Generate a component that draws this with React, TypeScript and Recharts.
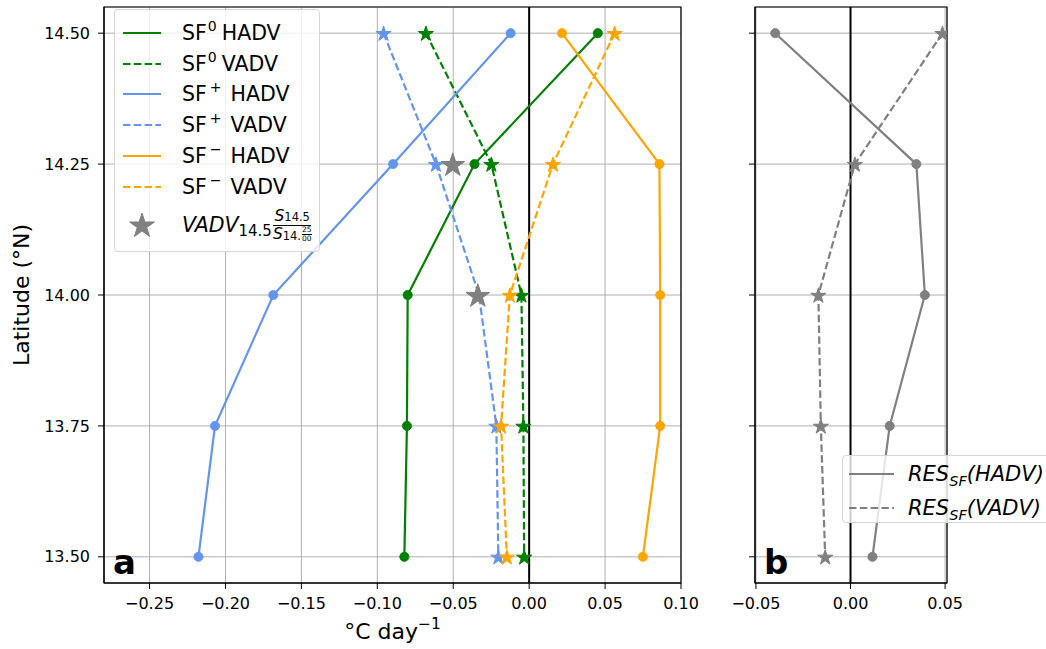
import React from 'react'
import { ScatterChart, Scatter, XAxis, YAxis, CartesianGrid, ReferenceLine, ReferenceArea, Label } from 'recharts'

// latitude rows, top to bottom
const latitudes = [14.5, 14.25, 14.0, 13.75, 13.5]
const latTicks = [13.5, 13.75, 14.0, 14.25, 14.5]
const ticksA = [-0.25, -0.2, -0.15, -0.1, -0.05, 0, 0.05, 0.1]
const ticksB = [-0.05, 0, 0.05]

// panel a, °C/day
const sf0Hadv = [0.0452, -0.036, -0.080, -0.0805, -0.0822]
const sf0Vadv = [-0.068, -0.0249, -0.0051, -0.0038, -0.0033]
const sfPlusHadv = [-0.0122, -0.0896, -0.1685, -0.2069, -0.2178]
const sfPlusVadv = [-0.0959, -0.0614, -0.033, -0.0216, -0.0203]
const sfMinusHadv = [0.0216, 0.0858, 0.0863, 0.0863, 0.0749]
const sfMinusVadv = [0.0563, 0.0157, -0.0127, -0.0185, -0.0147]
const scaledLatitudes = [14.25, 14.0]
const scaledVadv = [-0.0503, -0.0338]

// panel b, residuals
const resHadv = [-0.0398, 0.0348, 0.0393, 0.0207, 0.0116]
const resVadv = [0.0486, 0.0023, -0.017, -0.0157, -0.0134]

const GREEN = '#008000'
const BLUE = '#6495ED'
const ORANGE = '#FFA500'
const GREY = '#808080'
const FONT = '"DejaVu Sans", sans-serif'

const toPoints = (xs: number[], ys: number[]) => xs.map((x, i) => ({ x, y: ys[i] }))

type Series = {
  key: string
  xs: number[]
  ys: number[]
  color: string
  dashed: boolean
  marker: 'circle' | 'star' | 'bigstar'
  sup?: string
  name?: string
}

const seriesA: Series[] = [
  { key: 'sf0h', xs: sf0Hadv, ys: latitudes, color: GREEN, dashed: false, marker: 'circle', sup: '0', name: 'HADV' },
  { key: 'sf0v', xs: sf0Vadv, ys: latitudes, color: GREEN, dashed: true, marker: 'star', sup: '0', name: 'VADV' },
  { key: 'sfph', xs: sfPlusHadv, ys: latitudes, color: BLUE, dashed: false, marker: 'circle', sup: '+', name: 'HADV' },
  { key: 'sfpv', xs: sfPlusVadv, ys: latitudes, color: BLUE, dashed: true, marker: 'star', sup: '+', name: 'VADV' },
  { key: 'sfmh', xs: sfMinusHadv, ys: latitudes, color: ORANGE, dashed: false, marker: 'circle', sup: '\u2212', name: 'HADV' },
  { key: 'sfmv', xs: sfMinusVadv, ys: latitudes, color: ORANGE, dashed: true, marker: 'star', sup: '\u2212', name: 'VADV' },
  { key: 'scaled', xs: scaledVadv, ys: scaledLatitudes, color: GREY, dashed: false, marker: 'bigstar' },
]

const seriesB: Series[] = [
  { key: 'resh', xs: resHadv, ys: latitudes, color: GREY, dashed: false, marker: 'circle', name: 'HADV' },
  { key: 'resv', xs: resVadv, ys: latitudes, color: GREY, dashed: true, marker: 'star', name: 'VADV' },
]

function starPath(cx: number, cy: number, r: number) {
  const pts: string[] = []
  for (let i = 0; i < 10; i++) {
    const a = -Math.PI / 2 + (i * Math.PI) / 5
    const rr = i % 2 === 0 ? r : r * 0.382
    pts.push(`${(cx + rr * Math.cos(a)).toFixed(2)},${(cy + rr * Math.sin(a)).toFixed(2)}`)
  }
  return 'M' + pts.join('L') + 'Z'
}

function Marker({ cx, cy, kind, color }: { cx: number; cy: number; kind: string; color: string }) {
  if (cx == null || cy == null) return null
  if (kind === 'circle') return <circle cx={cx} cy={cy} r={4.6} fill={color} stroke={color} strokeWidth={0.8} />
  const r = kind === 'bigstar' ? 12.5 : 8
  return <path d={starPath(cx, cy + r * 0.1, r)} fill={color} stroke={color} strokeWidth={1} strokeLinejoin="round" />
}

const fmt = (v: number) => (Math.abs(v) < 1e-9 ? '0.00' : v < 0 ? '\u2212' + Math.abs(v).toFixed(2) : v.toFixed(2))

function renderSeries(list: Series[]) {
  return list.map((s) => (
    <Scatter
      key={s.key}
      data={toPoints(s.xs, s.ys)}
      fill={s.color}
      isAnimationActive={false}
      line={s.marker === 'bigstar' ? false : { strokeWidth: 2.2, strokeDasharray: s.dashed ? '7.5 3.3' : undefined }}
      shape={(p: any) => <Marker cx={p.cx} cy={p.cy} kind={s.marker} color={s.color} />}
    />
  ))
}

function Sup({ children, wide }: { children: React.ReactNode; wide: boolean }) {
  return (
    <span style={{ fontSize: 14, position: 'relative', top: -9, marginLeft: wide ? 3 : 1, marginRight: wide ? 9 : 5 }}>
      {children}
    </span>
  )
}

function LineSample({ color, dashed, width }: { color: string; dashed: boolean; width: number }) {
  return (
    <svg width={width} height={10} style={{ display: 'block' }}>
      <line x1={0} y1={5} x2={width} y2={5} stroke={color} strokeWidth={2.2} strokeDasharray={dashed ? '7.5 3.3' : undefined} />
    </svg>
  )
}

function LegendA() {
  const rows = seriesA.filter((s) => s.marker !== 'bigstar')
  return (
    <div
      style={{
        position: 'absolute', left: 114, top: 9, width: 206, height: 243, boxSizing: 'border-box',
        border: '1px solid #d6d6d6', borderRadius: 4, background: 'rgba(255,255,255,0.8)',
        fontFamily: FONT, fontSize: 20.5, color: '#000',
      }}
    >
      {rows.map((s, i) => (
        <div key={s.key} style={{ position: 'absolute', left: 8, top: 8 + i * 30.7, height: 30, display: 'flex', alignItems: 'center' }}>
          <LineSample color={s.color} dashed={s.dashed} width={38} />
          <span style={{ marginLeft: 21, whiteSpace: 'nowrap' }}>
            SF<Sup wide={s.sup !== '0'}>{s.sup}</Sup>
            {s.name}
          </span>
        </div>
      ))}
      <div style={{ position: 'absolute', left: 8, top: 196, height: 38, display: 'flex', alignItems: 'center' }}>
        <svg width={38} height={30} style={{ display: 'block' }}>
          <path d={starPath(19, 16, 13)} fill={GREY} stroke={GREY} strokeWidth={1} strokeLinejoin="round" />
        </svg>
        <span style={{ marginLeft: 21, whiteSpace: 'nowrap', display: 'inline-flex', alignItems: 'center' }}>
          <i>VADV</i>
          <span style={{ fontSize: 15, position: 'relative', top: 6 }}>14.5</span>
          <span style={{ display: 'inline-flex', flexDirection: 'column', alignItems: 'center', fontSize: 15.5, lineHeight: '16px', marginLeft: 1 }}>
            <span style={{ borderBottom: '1px solid #000', padding: '0 1px' }}>
              <i>S</i><span style={{ fontSize: 11.5 }}>14.5</span>
            </span>
            <span style={{ display: 'inline-flex', alignItems: 'center' }}>
              <i>S</i><span style={{ fontSize: 11.5, position: 'relative', top: 2 }}>14.</span>
              <span style={{ display: 'inline-flex', flexDirection: 'column', fontSize: 7.5, lineHeight: '7.5px', marginLeft: 1 }}>
                <span style={{ borderBottom: '0.5px solid #000' }}>25</span>
                <span>00</span>
              </span>
            </span>
          </span>
        </span>
      </div>
    </div>
  )
}

function LegendB() {
  return (
    <div
      style={{
        position: 'absolute', left: 842, top: 455, width: 215, height: 68, boxSizing: 'border-box',
        border: '1px solid #d6d6d6', borderRadius: 4, background: 'rgba(255,255,255,0.8)',
        fontFamily: FONT, fontSize: 21, color: '#000', overflow: 'hidden',
      }}
    >
      {seriesB.map((s, i) => (
        <div key={s.key} style={{ position: 'absolute', left: 6, top: 3 + i * 34, height: 30, display: 'flex', alignItems: 'center' }}>
          <LineSample color={s.color} dashed={s.dashed} width={45} />
          <span style={{ marginLeft: 14, whiteSpace: 'nowrap', fontStyle: 'italic' }}>
            RES<span style={{ fontSize: 14.5, position: 'relative', top: 5 }}>SF</span>({s.name})
          </span>
        </div>
      ))}
    </div>
  )
}

const tickStyle = { fontSize: 16, fill: '#000', fontFamily: FONT }
const axisLabelStyle = { fontSize: 22, fill: '#000', fontFamily: FONT }

function UnitLabel(props: any) {
  const vb = props.viewBox || {}
  return (
    <text x={vb.x + vb.width / 2} y={vb.y + vb.height - 10} textAnchor="middle" style={axisLabelStyle}>
      °C day<tspan dy={-10} style={{ fontSize: 15.5 }}>{'\u22121'}</tspan>
    </text>
  )
}

export default function App() {
  return (
    <div style={{ position: 'absolute', left: 0, top: 0, width: 1046, height: 649, background: '#fff', fontFamily: FONT }}>
      <div style={{ position: 'absolute', left: 0, top: 0 }}>
        <ScatterChart width={700} height={649} margin={{ top: 7, right: 19, bottom: 0, left: 0 }}>
          <CartesianGrid stroke="#b0b0b0" strokeWidth={1} />
          <XAxis
            type="number" dataKey="x" domain={[-0.28, 0.1]} ticks={ticksA} allowDataOverflow
            tickFormatter={fmt} tick={tickStyle} tickSize={6} tickMargin={9} height={66}
            axisLine={{ stroke: '#000' }} tickLine={{ stroke: '#000' }}
          >
            <Label content={UnitLabel} />
          </XAxis>
          <YAxis
            type="number" dataKey="y" domain={[13.45, 14.55]} ticks={latTicks} allowDataOverflow
            tickFormatter={(v: number) => v.toFixed(2)} tick={tickStyle} tickSize={6} tickMargin={8} width={104}
            axisLine={{ stroke: '#000' }} tickLine={{ stroke: '#000' }}
          >
            <Label value="Latitude (°N)" angle={-90} position="insideLeft" offset={21} style={{ ...axisLabelStyle, textAnchor: 'middle' }} />
          </YAxis>
          <ReferenceArea x1={-0.28} x2={0.1} y1={13.45} y2={14.55} fill="none" stroke="#000" strokeWidth={1.2}>
            <Label value="a" position="insideBottomLeft" offset={9} style={{ fontSize: 34, fontWeight: 'bold', fill: '#000', fontFamily: FONT }} />
          </ReferenceArea>
          <ReferenceLine x={0} stroke="#000" strokeWidth={2} />
          {renderSeries(seriesA)}
        </ScatterChart>
      </div>
      <div style={{ position: 'absolute', left: 700, top: 0 }}>
        <ScatterChart width={346} height={649} margin={{ top: 7, right: 99, bottom: 0, left: 0 }}>
          <CartesianGrid stroke="#b0b0b0" strokeWidth={1} />
          <XAxis
            type="number" dataKey="x" domain={[-0.0505, 0.051]} ticks={ticksB} allowDataOverflow
            tickFormatter={fmt} tick={tickStyle} tickSize={6} tickMargin={9} height={66}
            axisLine={{ stroke: '#000' }} tickLine={{ stroke: '#000' }}
          />
          <YAxis
            type="number" dataKey="y" domain={[13.45, 14.55]} ticks={latTicks} allowDataOverflow
            tickFormatter={() => ''} tick={tickStyle} tickSize={6} width={55}
            axisLine={{ stroke: '#000' }} tickLine={{ stroke: '#000' }}
          />
          <ReferenceArea x1={-0.0505} x2={0.051} y1={13.45} y2={14.55} fill="none" stroke="#000" strokeWidth={1.2}>
            <Label value="b" position="insideBottomLeft" offset={9} style={{ fontSize: 34, fontWeight: 'bold', fill: '#000', fontFamily: FONT }} />
          </ReferenceArea>
          <ReferenceLine x={0} stroke="#000" strokeWidth={2} />
          {renderSeries(seriesB)}
        </ScatterChart>
      </div>
      <LegendA />
      <LegendB />
    </div>
  )
}
